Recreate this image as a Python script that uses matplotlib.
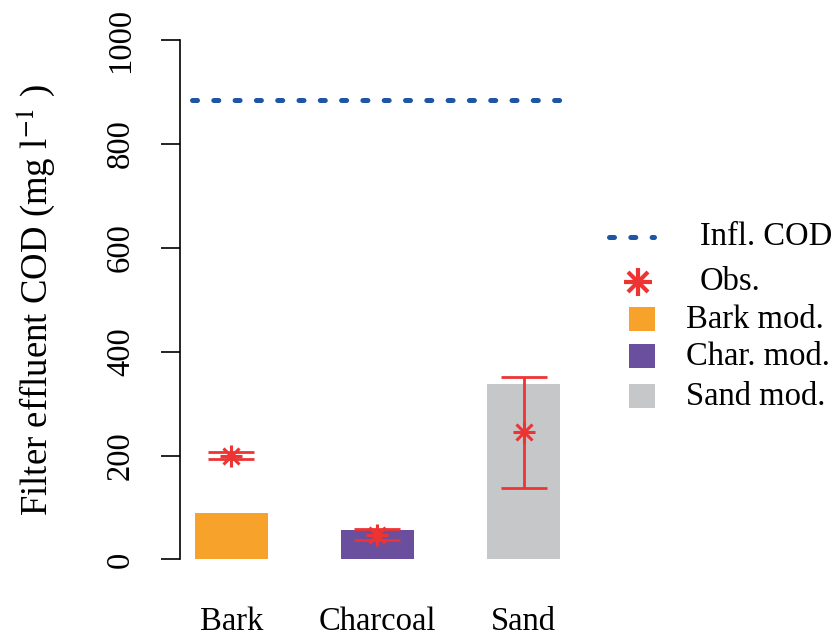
import matplotlib
matplotlib.use("Agg")
import matplotlib.pyplot as plt
from matplotlib.patches import Rectangle
from matplotlib.lines import Line2D

# Filter effluent COD: modelled vs observed
categories = ["Bark", "Charcoal", "Sand"]
modelled = [90, 56, 337]
observed = [200, 48, 245]
obs_err = [6, 10, 107]
inflow_cod = 884
yticks = [0, 200, 400, 600, 800, 1000]
legend_labels = ["Infl. COD", "Obs.", "Bark mod.", "Char. mod.", "Sand mod."]

bar_colors = ["#F6A22B", "#6A4F9F", "#C6C7C9"]
red = "#EE3333"
blue = "#1E56A3"

plt.rcParams["font.family"] = ["Liberation Serif", "DejaVu Serif"]
plt.rcParams["mathtext.fontset"] = "stix"
FS = 23.5

W, H = 837, 638
AX_L, AX_W = 180.4, 394.2
fig = plt.figure(figsize=(W / 100, H / 100), dpi=100)
ax = fig.add_axes([AX_L / W, (H - 580.2) / H, AX_W / W, 560.8 / H])

x = [1.5, 3.5, 5.5]
ax.bar(x, modelled, width=1.0, color=bar_colors, linewidth=0)

# observed values: asterisk (plus + cross) with error bars
ax.errorbar(x, observed, yerr=obs_err, fmt="none", ecolor=red,
            elinewidth=2.0, capsize=16.5, capthick=2.0, zorder=3)
ax.plot(x, observed, ls="none", marker="+", ms=16, mew=2.2, color=red, zorder=4)
ax.plot(x, observed, ls="none", marker="x", ms=11.5, mew=2.2, color=red, zorder=4)

# influent COD
ax.plot([0.96, 6.04], [inflow_cod, inflow_cod], color=blue, lw=3.6,
        dashes=(1.0, 3.26), dash_capstyle="round", zorder=2)

ax.set_xlim(0.8, 6.2)
ax.set_ylim(-40, 1040)
for s in ["top", "right", "bottom"]:
    ax.spines[s].set_visible(False)
ax.spines["left"].set_bounds(0, 1000)
ax.spines["left"].set_linewidth(1.2)
ax.set_yticks(yticks)
ax.set_yticklabels([str(v) for v in yticks], rotation=90, va="center",
                   ha="right", fontsize=FS)
ax.tick_params(axis="y", length=14, width=1.2, pad=18)
ax.set_xticks(x)
ax.set_xticklabels(categories, fontsize=FS)
ax.tick_params(axis="x", length=0, pad=19)
ax.set_ylabel(r"Filter effluent COD (mg l$^{-1}$ )", fontsize=26.5,
              va="center", ha="center")
ax.yaxis.set_label_coords((36 - AX_L) / AX_W, 0.5)

# legend drawn in pixel coordinates
lg = fig.add_axes([0, 0, 1, 1], facecolor="none")
lg.set_xlim(0, W)
lg.set_ylim(H, 0)
lg.axis("off")
rows_y = [237, 282, 320, 357, 397]
lg.add_line(Line2D([609, 654], [rows_y[0]] * 2, color=blue, lw=3.6,
                   dashes=(1.0, 3.26), dash_capstyle="round"))
lg.plot([638], [rows_y[1]], marker="+", ms=20, mew=3, color=red)
lg.plot([638], [rows_y[1]], marker="x", ms=14, mew=3, color=red)
for yy, c in zip(rows_y[2:], bar_colors):
    lg.add_patch(Rectangle((629, yy - 13), 26, 24, color=c, lw=0))
text_x = [700, 700, 686, 686, 686]
for lab, yy, tx in zip(legend_labels, rows_y, text_x):
    lg.text(tx, yy, lab, fontsize=FS, va="center", ha="left")

fig.savefig("out.png", dpi=100)
